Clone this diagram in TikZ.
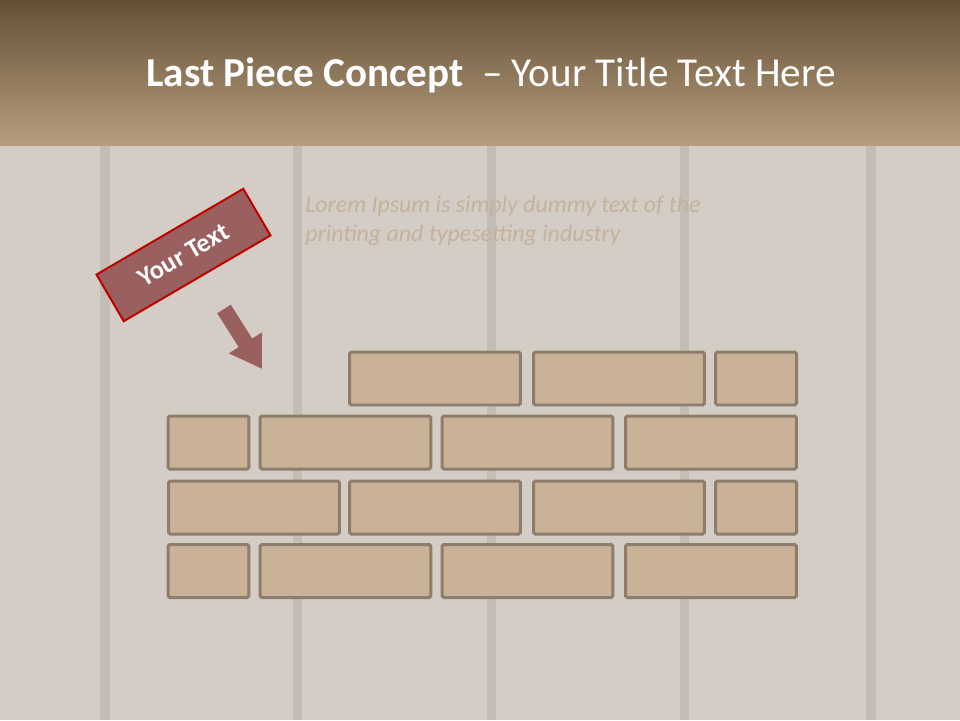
\documentclass[tikz,border=0pt]{standalone}
\usepackage{fontspec}
\setmainfont{Carlito}
\usetikzlibrary{arrows.meta}

\definecolor{woodbg}{HTML}{D4CDC5}
\definecolor{plank}{HTML}{C4BDB5}
\definecolor{headtop}{HTML}{645033}
\definecolor{headbot}{HTML}{B79D80}
\definecolor{brickfill}{HTML}{C9B298}
\definecolor{brickline}{HTML}{8E7D6B}
\definecolor{tagfill}{HTML}{9A5F5F}
\definecolor{tagline}{HTML}{C00000}
\definecolor{loremcol}{HTML}{C4B29C}

\begin{document}
\begin{tikzpicture}[x=0.02cm, y=-0.02cm,
    brick/.style={rectangle, draw=brickline, fill=brickfill, line width=0.06cm, rounded corners=1pt, minimum height=1.06cm, inner sep=0pt},
    longbrick/.style={brick, minimum width=3.42cm},
    shortbrick/.style={brick, minimum width=1.62cm},
    tag/.style={rectangle, draw=tagline, fill=tagfill, line width=0.04cm, minimum width=3.4cm, minimum height=1.08cm, text=white, font=\bfseries\fontsize{15}{17}\selectfont},
    pointer/.style={draw=tagfill, line width=0.32cm, -{Triangle[width=0.74cm, length=0.62cm]}}]
    % background
    \useasboundingbox (0,0) rectangle (960,720);
    \fill[woodbg] (0,0) rectangle (960,720);
    \fill[plank] (100,145) rectangle (110,720);
    \fill[plank] (293,145) rectangle (302,720);
    \fill[plank] (487,145) rectangle (496,720);
    \fill[plank] (680,145) rectangle (689,720);
    \fill[plank] (866,145) rectangle (876,720);
    \shade[top color=headtop, bottom color=headbot] (0,0) rectangle (960,145);

    % title and text
    \node[text=white, font=\fontsize{23.4}{28}\selectfont] (title) at (491,75) {\textbf{Last Piece Concept}\ \ – Your Title Text Here};
    \node[anchor=north west, align=left, text=loremcol, inner sep=0pt, font=\itshape\fontsize{13.6}{16.4}\selectfont] (lorem) at (305,196) {Lorem Ipsum is simply dummy text of the\\printing and typesetting industry};

    % tag and arrow
    \node[tag, rotate=30.3] (tag) at (183.5,255) {Your Text};
    \coordinate (arrtail) at (224,309);
    \coordinate (arrtip) at (262,369);
    \path [pointer] (arrtail) -- (arrtip);

    % bricks
    \node[longbrick] (b1a) at (435,378.5) {};
    \node[longbrick] (b1b) at (619,378.5) {};
    \node[shortbrick] (b1c) at (756,378.5) {};

    \node[shortbrick] (b2a) at (208.5,442.5) {};
    \node[longbrick] (b2b) at (345.5,442.5) {};
    \node[longbrick] (b2c) at (527.5,442.5) {};
    \node[longbrick] (b2d) at (711,442.5) {};

    \node[longbrick] (b3a) at (254,507.5) {};
    \node[longbrick] (b3b) at (435,507.5) {};
    \node[longbrick] (b3c) at (619,507.5) {};
    \node[shortbrick] (b3d) at (756,507.5) {};

    \node[shortbrick] (b4a) at (208.5,571) {};
    \node[longbrick] (b4b) at (345.5,571) {};
    \node[longbrick] (b4c) at (527.5,571) {};
    \node[longbrick] (b4d) at (711,571) {};
\end{tikzpicture}
\end{document}
